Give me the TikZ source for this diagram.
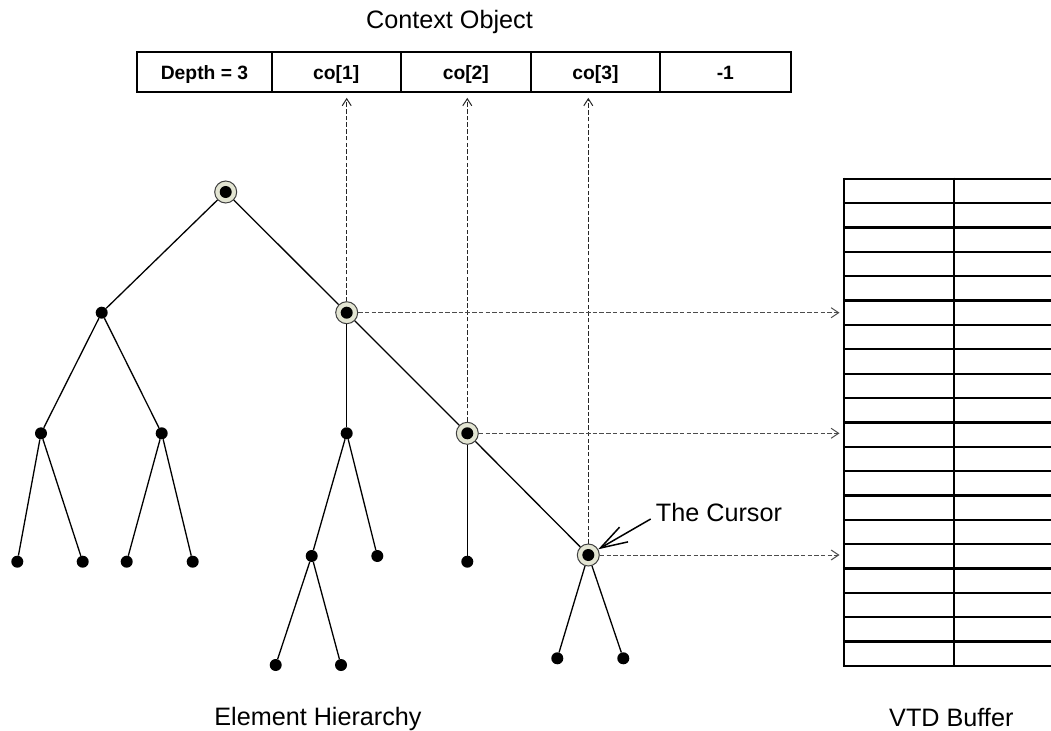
\documentclass[tikz,border=0pt]{standalone}
\usepackage{fontspec}
\setmainfont{Liberation Sans}
\usetikzlibrary{arrows.meta}
\definecolor{ringc}{HTML}{E3E5D3}
\begin{document}
\begin{tikzpicture}[x=1bp,y=-1bp,
  dot/.style={circle,fill=black,inner sep=0pt,minimum size=12bp},
  hl/.style={circle,draw=black!75,line width=1bp,fill=ringc,inner sep=0pt,minimum size=22bp,
    path picture={\fill[black] (path picture bounding box.center) circle (6bp);}},
  treeedge/.style={line width=1.3bp},
  cell/.style={draw,line width=2.3bp,minimum height=39.4bp,inner sep=0pt,
    text height=15.6bp,text depth=0pt,font=\fontsize{19.3bp}{23bp}\selectfont\bfseries},
  lbl/.style={inner sep=0pt,font=\fontsize{25.2bp}{30bp}\selectfont},
  vdash/.style={line width=1bp,black!85,dash pattern=on 4.5bp off 2.2bp,
    -{Straight Barb[length=7bp,width=9bp]},shorten >=5bp},
  hdash/.style={line width=1bp,black!70,dash pattern=on 4.5bp off 2.2bp,
    -{Straight Barb[length=7.5bp,width=10bp]},shorten >=4.5bp},
  bufline/.style={line width=2.3bp}
]
\useasboundingbox (0,0) rectangle (1051,731);

% Context object table
\node[lbl,anchor=base] (cotitle) at (449.5,28.3) {Context Object};
\node[cell,minimum width=134.4bp] (c0) at (204.5,72) {Depth = 3};
\node[cell,minimum width=129bp] (c1) at (336.2,72) {co[1]};
\node[cell,minimum width=130.3bp] (c2) at (465.85,72) {co[2]};
\node[cell,minimum width=129bp] (c3) at (595.5,72) {co[3]};
\node[cell,minimum width=130.7bp] (c4) at (725.35,72) {-1};

% VTD buffer
\coordinate (vtdL) at (844,178.8);
\draw[bufline] (844,177.7) -- (844,667.1);
\draw[bufline] (954,177.7) -- (954,667.1);
\foreach \i in {0,...,20} {
  \draw[bufline] (842.9,178.8+24.36*\i) -- (1051,178.8+24.36*\i);
}

% Tree nodes
\node[hl] (root) at (225.7,192) {};
\node[dot] (a) at (101.7,312.7) {};
\node[hl] (b) at (346.7,312.7) {};
\node[dot] (a1) at (41,433.3) {};
\node[dot] (a2) at (161.7,433.3) {};
\node[dot] (b1) at (346.7,433.3) {};
\node[hl] (b2) at (467.3,433.3) {};
\node[dot] (a11) at (17.3,561.7) {};
\node[dot] (a12) at (82.7,561.7) {};
\node[dot] (a21) at (126.7,561.7) {};
\node[dot] (a22) at (192.7,561.7) {};
\node[dot] (b11) at (311.7,556) {};
\node[dot] (b12) at (377.3,556) {};
\node[dot] (b21) at (467.3,561.7) {};
\node[hl] (cur) at (588.3,555) {};
\node[dot] (b111) at (275.7,665) {};
\node[dot] (b112) at (341,665) {};
\node[dot] (c1n) at (557.3,658.3) {};
\node[dot] (c2n) at (623.3,658.3) {};

\draw[treeedge] (root) -- (a);
\draw[treeedge] (root) -- (b);
\draw[treeedge] (a) -- (a1);
\draw[treeedge] (a) -- (a2);
\draw[treeedge] (a1) -- (a11);
\draw[treeedge] (a1) -- (a12);
\draw[treeedge] (a2) -- (a21);
\draw[treeedge] (a2) -- (a22);
\draw[treeedge] (b) -- (b1);
\draw[treeedge] (b) -- (b2);
\draw[treeedge] (b1) -- (b11);
\draw[treeedge] (b1) -- (b12);
\draw[treeedge] (b11) -- (b111);
\draw[treeedge] (b11) -- (b112);
\draw[treeedge] (b2) -- (b21);
\draw[treeedge] (b2) -- (cur);
\draw[treeedge] (cur) -- (c1n);
\draw[treeedge] (cur) -- (c2n);

% Dashed pointers to context object
\draw[vdash] (b.north) -- (b |- c1.south);
\draw[vdash] (b2.north) -- (b2 |- c2.south);
\draw[vdash] (cur.north) -- (cur |- c3.south);

% Dashed pointers to VTD buffer
\draw[hdash] (b.east) -- (b -| vtdL);
\draw[hdash] (b2.east) -- (b2 -| vtdL);
\draw[hdash] (cur.east) -- (cur -| vtdL);

% Cursor label
\node[lbl,anchor=base west] (ct) at (655.7,521) {The Cursor};
\draw[line width=1.5bp,-{Straight Barb[length=27bp,width=17bp]}] ([shift={(-5,-2)}]ct.base west) -- (cur);

% Bottom labels
\node[lbl,anchor=base] (eh) at (318,725) {Element Hierarchy};
\node[lbl,anchor=base] (vb) at (951.3,726) {VTD Buffer};
\end{tikzpicture}
\end{document}
